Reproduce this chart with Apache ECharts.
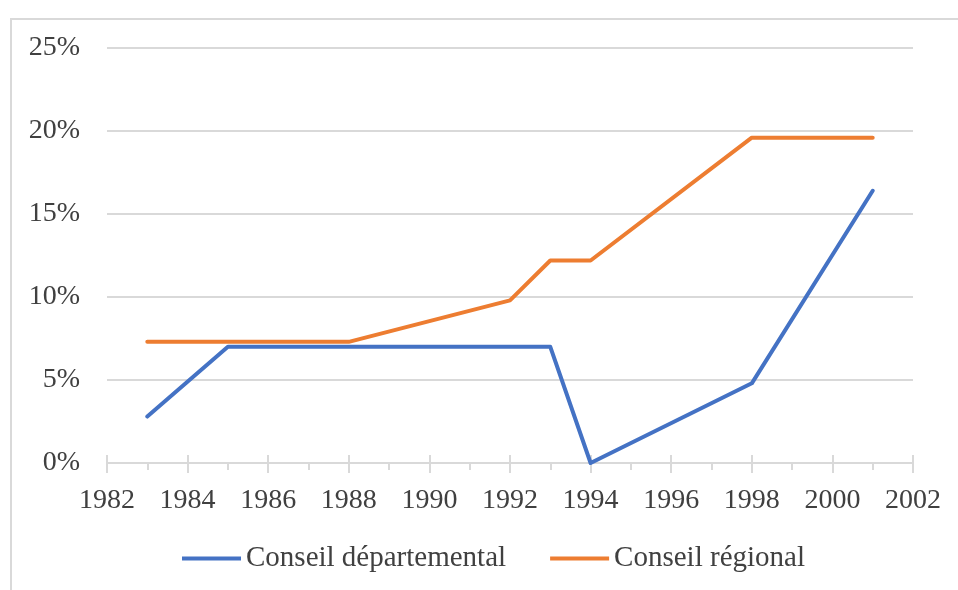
<!DOCTYPE html>
<html><head><meta charset="utf-8">
<script src="https://cdn.jsdelivr.net/npm/echarts@6/dist/echarts.min.js"></script>
<style>html,body{margin:0;padding:0;background:#fff}#c{width:958px;height:590px}</style>
</head><body><div id="c"></div>
<script>
const years = [1983, 1985, 1988, 1992, 1993, 1994, 1998, 2001];
const departemental = [2.8, 7.0, 7.0, 7.0, 7.0, 0.0, 4.8, 16.4];
const regional = [7.3, 7.3, 7.3, 9.8, 12.2, 12.2, 19.6, 19.6];
const seriesNames = ['Conseil départemental', 'Conseil régional'];
const xTicks = {min: 1982, max: 2002, step: 2};
const yTicks = {min: 0, max: 25, step: 5};

const font = 'Liberation Serif';
const chart = echarts.init(document.getElementById('c'));
const pair = (xs, ys) => xs.map((x, i) => [x, ys[i]]);
chart.setOption({
  animation: false,
  graphic: [{type: 'rect', shape: {x: 11, y: 19, width: 1200, height: 1000},
    style: {fill: 'none', stroke: '#d9d9d9', lineWidth: 2}, silent: true}],
  grid: {left: 107, right: 45, top: 48, bottom: 127, containLabel: false},
  legend: {
    data: seriesNames, left: 177, top: 539, itemWidth: 59, itemHeight: 4, itemGap: 44,
    icon: 'rect',
    textStyle: {fontFamily: font, fontSize: 29, color: '#404040'}
  },
  xAxis: [{
    type: 'value', min: xTicks.min, max: xTicks.max, interval: xTicks.step,
    axisLine: {show: true, lineStyle: {color: '#d9d9d9', width: 2}},
    axisTick: {show: true, length: 10, lineStyle: {color: '#d9d9d9', width: 2}},
    minorTick: {show: true, splitNumber: 2, length: 7, lineStyle: {color: '#d9d9d9', width: 2}},
    splitLine: {show: false},
    axisLabel: {fontFamily: font, fontSize: 28, color: '#404040', margin: 24, formatter: v => String(v)}
  }, {
    type: 'value', position: 'bottom', min: xTicks.min, max: xTicks.max, interval: xTicks.step,
    axisLine: {show: false},
    axisTick: {show: true, inside: true, length: 8, lineStyle: {color: '#d9d9d9', width: 2}},
    axisLabel: {show: false}, splitLine: {show: false}
  }],
  yAxis: {
    type: 'value', min: yTicks.min, max: yTicks.max, interval: yTicks.step,
    axisLine: {show: false}, axisTick: {show: false},
    splitLine: {lineStyle: {color: '#d9d9d9', width: 2}},
    axisLabel: {fontFamily: font, fontSize: 28, color: '#404040', margin: 27, formatter: '{value}%'}
  },
  series: [
    {name: seriesNames[0], type: 'line', data: pair(years, departemental), showSymbol: false,
      lineStyle: {width: 4, color: '#4472C4', cap: 'round', join: 'round'}, itemStyle: {color: '#4472C4'}},
    {name: seriesNames[1], type: 'line', data: pair(years, regional), showSymbol: false,
      lineStyle: {width: 4, color: '#ED7D31', cap: 'round', join: 'round'}, itemStyle: {color: '#ED7D31'}}
  ]
});
</script></body></html>
